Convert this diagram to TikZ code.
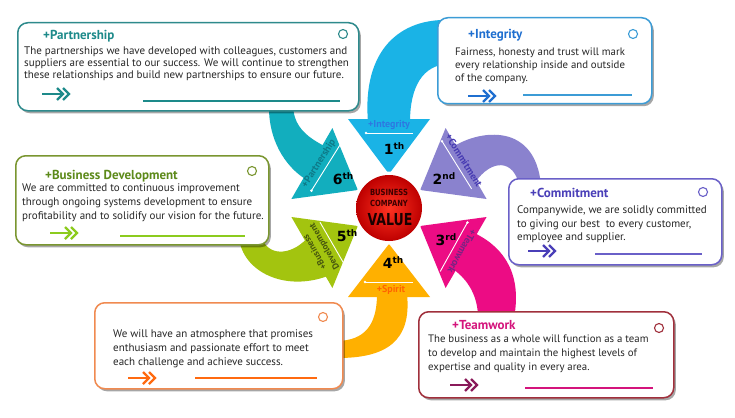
\documentclass[tikz,border=0pt]{standalone}
\usepackage{fontspec}
\usepackage{graphicx}
\setmainfont{PT Sans}
\newfontfamily\dvs{DejaVu Sans}
\usetikzlibrary{shadows}
\definecolor{cInt}{HTML}{1AB3E6}
\definecolor{cCom}{HTML}{8A82CE}
\definecolor{cTeam}{HTML}{EC0C84}
\definecolor{cSpi}{HTML}{FFB000}
\definecolor{cBD}{HTML}{A3C40F}
\definecolor{cPar}{HTML}{12AEBE}
\definecolor{bPar}{HTML}{2E8A8C}
\definecolor{tPar}{HTML}{1D8A8A}
\definecolor{bInt}{HTML}{3C9CD6}
\definecolor{tInt}{HTML}{1F6FD0}
\definecolor{bBD}{HTML}{7A9630}
\definecolor{tBD}{HTML}{5D8A1A}
\definecolor{gBD}{HTML}{8CCB1E}
\definecolor{bCom}{HTML}{6A60C8}
\definecolor{tCom}{HTML}{4A3FB8}
\definecolor{bSpi}{HTML}{F08A50}
\definecolor{tSpi}{HTML}{FF6A10}
\definecolor{bTeam}{HTML}{A0303C}
\definecolor{tTeam}{HTML}{D4147C}
\definecolor{aTeam}{HTML}{8A1A5A}
\definecolor{txt}{HTML}{262626}
\definecolor{redIn}{HTML}{FF3322}
\definecolor{redOut}{HTML}{BE0000}
\newcommand\mychev[3]{%
  \draw[#3, line width=2.3pt] (#1,#2) -- (#1+20,#2);
  \draw[#3, line width=2.3pt, line join=miter] (#1+15,#2-6) -- (#1+21,#2) -- (#1+15,#2+6);
  \draw[#3, line width=2.3pt, line join=miter] (#1+21,#2-6) -- (#1+27,#2) -- (#1+21,#2+6);}
\begin{document}
\begin{tikzpicture}[x=1pt,y=-1pt,
  box/.style={draw, fill=white, rounded corners=10pt, line width=1.5pt, anchor=north west, inner sep=0pt,
    drop shadow={shadow xshift=2pt, shadow yshift=-2.5pt, opacity=0.35, fill=black}},
  ring/.style={circle, draw, line width=1.1pt, minimum size=9pt, inner sep=0pt},
  title/.style={anchor=base west, inner sep=0pt, font=\bfseries\fontsize{13}{14}\selectfont},
  body/.style={anchor=north west, inner sep=0pt, align=left, text=txt},
  ord/.style={inner sep=0pt, font=\dvs\bfseries\fontsize{14}{14}\selectfont},
  tag/.style={inner sep=0pt, font=\bfseries\fontsize{10}{11}\selectfont},
  tagline/.style={white, line width=0.9pt},
  uline/.style={line width=1.3pt}]
\useasboundingbox (0,0) rectangle (735,417);
\fill[white] (0,0) rectangle (735,417);
% shafts
\fill[cInt] (368,122) .. controls (362,50) and (400,18) .. (450,20) -- (450,64) .. controls (422,64) and (410,88) .. (410,122) -- cycle;
\fill[cCom] (453.9,146.3) .. controls (480,130) and (535,122) .. (541,185) -- (519,185) .. controls (514,160) and (492,158) .. (474.9,182.7) -- cycle;
\fill[cTeam] (474.9,233.3) .. controls (505,248) and (522,275) .. (514,318) -- (478,318) .. controls (478,296) and (468,280) .. (453.9,269.7) -- cycle;
\fill[cSpi] (407,294) .. controls (412,342) and (385,358) .. (338,358) -- (338,341) .. controls (364,340) and (377,326) .. (377,294) -- cycle;
\fill[cBD] (306.4,239) .. controls (290,256) and (268,256) .. (262,238) -- (239,238) .. controls (243,272) and (285,292) .. (327.7,276) -- cycle;
\fill[cPar] (305.2,179) .. controls (285,166) and (268,140) .. (269,104) -- (293,104) .. controls (293,125) and (305,136) .. (324.3,146) -- cycle;
% arrowheads
\fill[cInt] (348,119) -- (430,119) -- (389,174) -- cycle;
\fill[cCom] (445.6,128) -- (486.6,199) -- (420.2,190) -- cycle;
\fill[cTeam] (486.6,217) -- (445.6,288) -- (420.2,226) -- cycle;
\fill[cSpi] (348,297) -- (430,297) -- (389,244) -- cycle;
\fill[cBD] (291.4,217) -- (332.4,288) -- (357.8,226) -- cycle;
\fill[cPar] (291.4,199) -- (332.4,128) -- (357.8,190) -- cycle;
% centre
\fill[white] (389,208) circle (36.5);
\shade[inner color=redIn, outer color=redOut] (389,208) circle (33);
\node[inner sep=0pt, text={rgb,255:red,60;green,0;blue,0}] (bus) at (389,192.5)
  {\dvs\bfseries\fontsize{8.5}{9}\selectfont\scalebox{0.8}[1]{BUSINESS}};
\node[inner sep=0pt, text={rgb,255:red,60;green,0;blue,0}] (comp) at (389,203.5)
  {\dvs\bfseries\fontsize{8.5}{9}\selectfont\scalebox{0.8}[1]{COMPANY}};
\node[inner sep=0pt, text={rgb,255:red,25;green,0;blue,0}] (val) at (390,220)
  {\dvs\bfseries\fontsize{16.5}{17}\selectfont\scalebox{0.76}[1]{VALUE}};
% ordinals
\node[ord] (o1) at (394,149) {1\raisebox{5pt}{\fontsize{9}{9}\selectfont th}};
\node[ord] (o2) at (444,179) {2\raisebox{5pt}{\fontsize{9}{9}\selectfont nd}};
\node[ord] (o3) at (446,240) {3\raisebox{5pt}{\fontsize{9}{9}\selectfont rd}};
\node[ord] (o4) at (393,263) {4\raisebox{5pt}{\fontsize{9}{9}\selectfont th}};
\node[ord] (o5) at (347,236) {5\raisebox{5pt}{\fontsize{9}{9}\selectfont th}};
\node[ord] (o6) at (343,179) {6\raisebox{5pt}{\fontsize{9}{9}\selectfont th}};
% tags
\node[tag, text={rgb,255:red,45;green,120;blue,225}] (g1) at (389,125.5) {+Integrity};
\draw[tagline] (366,133) -- (413,133); \fill[white] (366,133) circle (1.4);
\node[tag, text={rgb,255:red,70;green,58;blue,178}, rotate=-58] (g2) at (464,160.5) {+Commitment};
\draw[tagline] (442,141.2) -- (471.6,188.8); \fill[white] (442,141.2) circle (1.4);
\node[tag, text={rgb,255:red,118;green,36;blue,130}, rotate=-119] (g3) at (462,251.5) {+Teamwork};
\draw[tagline] (467.4,222.5) -- (440.2,271.5); \fill[white] (467.4,222.5) circle (1.4);
\node[tag, text={rgb,255:red,255;green,100;blue,0}] (g4) at (391,290) {+Spirit};
\draw[tagline] (365,282) -- (413,282); \fill[white] (365,282) circle (1.4);
\node[tag, align=center, text={rgb,255:red,70;green,86;blue,14}, rotate=120, font=\bfseries\fontsize{9}{11}\selectfont] (g5) at (320,249) {+Business\\Development};
\draw[tagline] (320,222.2) -- (344,263.8); \fill[white] (344,263.8) circle (1.4);
\node[tag, text={rgb,255:red,14;green,122;blue,136}, rotate=58] (g6) at (319,163.5) {+Partnership};
\draw[tagline] (311.4,190.7) -- (341,143.3); \fill[white] (311.4,190.7) circle (1.4);
% boxes
\node[box, draw=bPar, minimum width=341pt, minimum height=88pt] (par) at (17,22) {};
\node[box, draw=bInt, minimum width=214pt, minimum height=86pt] (int) at (437,17) {};
\node[box, draw=bBD, minimum width=253pt, minimum height=89pt] (bd) at (15,155) {};
\node[box, draw=bCom, minimum width=213pt, minimum height=86pt] (com) at (508,178) {};
\node[box, draw=bSpi, minimum width=248pt, minimum height=86pt] (spi) at (94,302) {};
\node[box, draw=bTeam, minimum width=255pt, minimum height=86pt] (team) at (418,311) {};
% rings
\node[ring, draw=bPar] (rpar) at (343,34) {};
\node[ring, draw=bInt] (rint) at (633,34) {};
\node[ring, draw=bBD] (rbd) at (252,171) {};
\node[ring, draw=bCom] (rcom) at (703,192) {};
\node[ring, draw=bSpi] (rspi) at (323,317) {};
\node[ring, draw=bTeam] (rteam) at (659,328) {};
% titles
\node[title, text=tPar] (tpar) at (43,39.6) {+Partnership};
\node[title, text=tInt] (tint) at (468,39) {+Integrity};
\node[title, text=tBD] (tbd) at (45,179.6) {+Business Development};
\node[title, text=tCom] (tcom) at (530,197.6) {+Commitment};
\node[title, text=tTeam] (tteam) at (452,329.6) {+Teamwork};
% bodies
\node[body, font=\fontsize{11}{11.7}\selectfont] (xpar) at (24,46.8) {The partnerships we have developed with colleagues, customers and\\suppliers are essential to our success. We will continue to strengthen\\these relationships and build new partnerships to ensure our future.};
\node[body, font=\fontsize{10.8}{13}\selectfont] (xint) at (455,47.8) {Fairness, honesty and trust will mark\\every relationship inside and outside\\of the company.};
\node[body, font=\fontsize{11}{14}\selectfont] (xbd) at (22,183.8) {We are committed to continuous improvement\\through ongoing systems development to ensure\\profitability and to solidify our vision for the future.};
\node[body, font=\fontsize{11}{13.5}\selectfont] (xcom) at (517,205.8) {Companywide, we are solidly committed\\to giving our best\ \ to every customer,\\employee and supplier.};
\node[body, font=\fontsize{11}{14}\selectfont] (xspi) at (113,329.8) {We will have an atmosphere that promises\\enthusiasm and passionate effort to meet\\each challenge and achieve success.};
\node[body, font=\fontsize{10.8}{14}\selectfont] (xteam) at (428,334.8) {The business as a whole will function as a team\\to develop and maintain the highest levels of\\expertise and quality in every area.};
% chevrons and rules
\mychev{42}{94}{tPar}
\draw[uline, tPar] (143,101) -- (340,101);
\mychev{468}{96}{tInt}
\draw[uline, bInt] (523,95) -- (632,95);
\mychev{50}{233}{gBD}
\draw[uline, gBD] (120,236) -- (245,236);
\mychev{528}{251}{tCom}
\draw[uline, bCom] (595,254) -- (702,254);
\mychev{128}{378}{tSpi}
\draw[uline, tSpi] (195,378) -- (317,378);
\mychev{450}{385}{aTeam}
\draw[uline, tTeam] (525,388) -- (653,388);
\end{tikzpicture}
\end{document}
